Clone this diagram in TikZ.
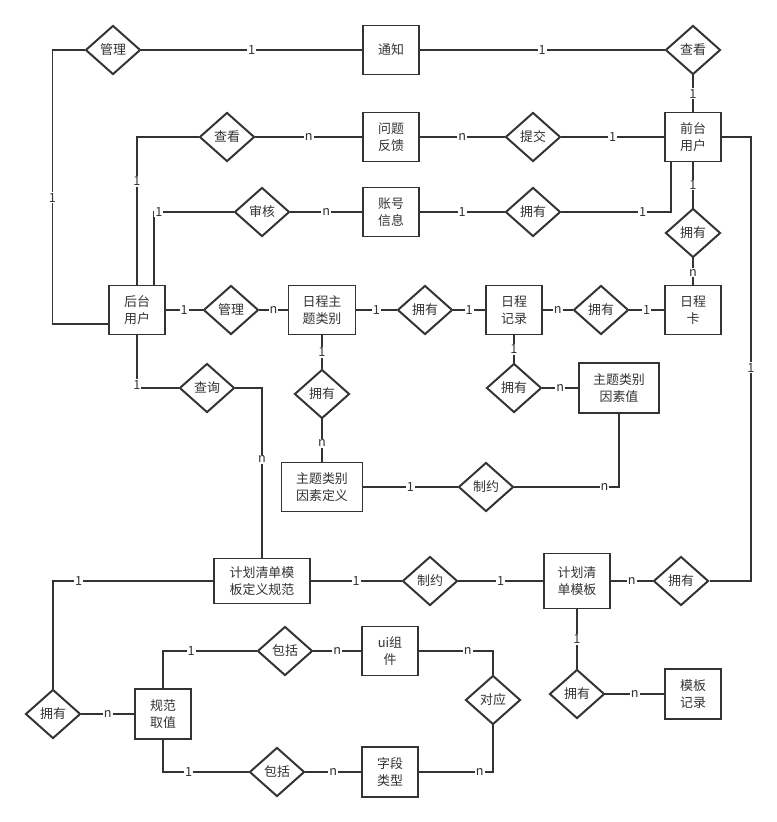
\documentclass[tikz,border=0pt]{standalone}
\usepackage{fontspec}
\setmainfont{Noto Sans CJK SC}
\usepackage{tikz}
\usetikzlibrary{shapes.geometric,calc}
\colorlet{er}{black!80}

\begin{document}
\begin{tikzpicture}[x=0.025cm,y=-0.025cm,line width=1.4pt,color=er,
  ent/.style={draw,fill=white,minimum width=1.4cm,minimum height=1.225cm,align=center,inner sep=1pt,font=\fontsize{9.2}{12}\selectfont},
  rel/.style={draw,diamond,fill=white,minimum width=1.375cm,minimum height=1.225cm,inner sep=0pt,font=\fontsize{9.2}{12}\selectfont},
  lab/.style={fill=white,inner sep=0.7pt,font=\fontsize{9}{9}\selectfont}]
\useasboundingbox (0,0) rectangle (776,822);
% entities
\node[ent] (tz) at (391,50) {通知};
\node[ent] (wtfk) at (391,137) {问题\\反馈};
\node[ent] (zhxx) at (391,212) {账号\\信息};
\node[ent] (qtyh) at (693,137) {前台\\用户};
\node[ent] (htyh) at (137,310) {后台\\用户};
\node[ent,minimum width=1.675cm] (rczt) at (322,310) {日程主\\题类别};
\node[ent] (rcjl) at (514,310) {日程\\记录};
\node[ent] (rck) at (693,310) {日程\\卡};
\node[ent,minimum width=2cm,minimum height=1.25cm] (ysz) at (619,388) {主题类别\\因素值};
\node[ent,minimum width=2.025cm] (ysdy) at (322,487) {主题类别\\因素定义};
\node[ent,minimum width=2.4cm,minimum height=1.125cm] (mbgf) at (262,581) {计划清单模\\板定义规范};
\node[ent,minimum width=1.65cm,minimum height=1.375cm] (qdmb) at (577,581) {计划清\\单模板};
\node[ent,minimum height=1.25cm] (gfqz) at (163,714) {规范\\取值};
\node[ent] (uizj) at (390,651) {ui组\\件};
\node[ent,minimum height=1.25cm] (zdlx) at (390,772) {字段\\类型};
\node[ent,minimum height=1.25cm] (mbjl) at (693,694) {模板\\记录};
% relations
\node[rel] (gl1) at (113,50) {管理};
\node[rel] (ck1) at (693,50) {查看};
\node[rel] (ck2) at (227,137) {查看};
\node[rel] (tj) at (533,137) {提交};
\node[rel] (sh) at (262,212) {审核};
\node[rel] (yy1) at (533,212) {拥有};
\node[rel] (yy2) at (693,233) {拥有};
\node[rel] (gl2) at (231,310) {管理};
\node[rel] (yy3) at (425,310) {拥有};
\node[rel] (yy4) at (601,310) {拥有};
\node[rel] (yy5) at (322,394) {拥有};
\node[rel] (cx) at (207,388) {查询};
\node[rel] (yy6) at (514,388) {拥有};
\node[rel] (zy1) at (486,487) {制约};
\node[rel] (zy2) at (430,581) {制约};
\node[rel] (yy7) at (681,581) {拥有};
\node[rel] (yy8) at (53,714) {拥有};
\node[rel] (bk1) at (285,651) {包括};
\node[rel] (bk2) at (277,772) {包括};
\node[rel] (dy) at (493,700) {对应};
\node[rel] (yy9) at (577,694) {拥有};
% top rows
\draw (gl1.west) -- ++(-32,0) |- ($(htyh.west)+(0,14)$) node[lab,pos=.27]{1};
\draw (gl1.east) -- (tz.west) node[lab,midway]{1};
\draw (tz.east) -- (ck1.west) node[lab,midway]{1};
\draw (ck1.south) -- (qtyh.north) node[lab,midway]{1};
\draw (htyh.north) |- (ck2.west) node[lab,pos=.35]{1};
\draw (ck2.east) -- (wtfk.west) node[lab,midway]{n};
\draw (wtfk.east) -- (tj.west) node[lab,midway]{n};
\draw (tj.east) -- (qtyh.west) node[lab,midway]{1};
\draw ($(htyh.north)+(17,0)$) |- (sh.west) node[lab,pos=.53]{1};
\draw (sh.east) -- (zhxx.west) node[lab,midway]{n};
\draw (zhxx.east) -- (yy1.west) node[lab,midway]{1};
\draw (yy1.east) -| ($(qtyh.south)+(-22,0)$) node[lab,pos=.37]{1};
\draw (qtyh.south) -- (yy2.north) node[lab,midway]{1};
\draw (yy2.south) -- (rck.north) node[lab,pos=.55]{n};
\draw (qtyh.east) -- ++(29,0) |- (yy7.east) node[lab,pos=.26]{1};
% schedule row
\draw (htyh.east) -- (gl2.west) node[lab,midway]{1};
\draw (gl2.east) -- (rczt.west) node[lab,midway]{n};
\draw (rczt.east) -- (yy3.west) node[lab,midway]{1};
\draw (yy3.east) -- (rcjl.west) node[lab,midway]{1};
\draw (rcjl.east) -- (yy4.west) node[lab,midway]{n};
\draw (yy4.east) -- (rck.west) node[lab,midway]{1};
\draw (rczt.south) -- (yy5.north) node[lab,midway]{1};
\draw (yy5.south) -- (ysdy.north) node[lab,pos=.57]{n};
\draw (rcjl.south) -- (yy6.north) node[lab,midway]{1};
\draw (yy6.east) -- (ysz.west) node[lab,midway]{n};
\draw (ysdy.east) -- (zy1.west) node[lab,midway]{1};
\draw (zy1.east) -| (ysz.south) node[lab,pos=.43]{n};
\draw (htyh.south) |- (cx.west) node[lab,pos=.47]{1};
\draw (cx.east) -| (mbgf.north) node[lab,pos=.71]{n};
% template part
\draw (mbgf.east) -- (zy2.west) node[lab,midway]{1};
\draw (zy2.east) -- (qdmb.west) node[lab,midway]{1};
\draw (qdmb.east) -- (yy7.west) node[lab,midway]{n};
\draw (mbgf.west) -| (yy8.north) node[lab,pos=.42]{1};
\draw (yy8.east) -- (gfqz.west) node[lab,midway]{n};
\draw (gfqz.north) |- (bk1.west) node[lab,pos=.65]{1};
\draw (bk1.east) -- (uizj.west) node[lab,midway]{n};
\draw (uizj.east) -| (dy.north) node[lab,pos=.33]{n};
\draw (gfqz.south) |- (bk2.west) node[lab,pos=.65]{1};
\draw (bk2.east) -- (zdlx.west) node[lab,midway]{n};
\draw (zdlx.east) -| (dy.south) node[lab,pos=.41]{n};
\draw (qdmb.south) -- (yy9.north) node[lab,midway]{1};
\draw (yy9.east) -- (mbjl.west) node[lab,midway]{n};
\end{tikzpicture}
\end{document}
